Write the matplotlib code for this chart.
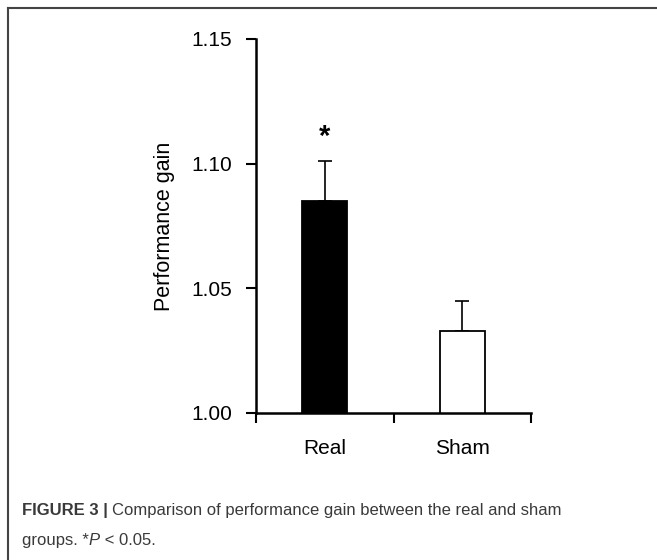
"""
Bar chart of performance gain for the real and sham stimulation groups,
with the figure caption underneath (journal figure style).
"""

import matplotlib
matplotlib.use('Agg')
import matplotlib.pyplot as plt
from matplotlib.lines import Line2D

# Data.
groups = ['Real', 'Sham']
gain = [1.085, 1.033]
gain_sem = [0.016, 0.012]
bar_colours = ['black', 'white']
sig_marks = ['*', '']

yticks = [1.00, 1.05, 1.10, 1.15]
ytick_labels = ['1.00', '1.05', '1.10', '1.15']

caption_bold = 'FIGURE 3 | '
caption_line1 = 'Comparison of performance gain between the real and sham'
caption_line2 = ['groups. *', 'P', ' < 0.05.']

plt.rcParams['font.family'] = ['Liberation Sans', 'DejaVu Sans']

fig = plt.figure(figsize=(6.57, 5.6), dpi=100)
W, H = 657.0, 560.0

# Axes placed in pixel terms from the reference.
ax = fig.add_axes([256 / W, 1 - 413 / H, (531 - 256) / W, (413 - 39) / H])

x = list(range(len(groups)))
ax.bar(x, gain, width=0.33, color=bar_colours, edgecolor='black',
       linewidth=1.3, zorder=2)
ax.errorbar(x, gain, yerr=[[0] * len(gain), gain_sem], fmt='none',
            ecolor='black', elinewidth=1.2, capsize=4.7, capthick=1.2,
            zorder=1)

for xi, g, e, m in zip(x, gain, gain_sem, sig_marks):
    if m:
        ax.text(xi, g + e + 0.004, m, ha='center', va='bottom',
                fontsize=21, fontweight='bold')

ax.set_ylim(1.00, 1.15)
ax.set_xlim(-0.5, len(groups) - 0.5)
ax.set_yticks(yticks)
ax.set_yticklabels(ytick_labels)

# Category labels without marks; tick marks sit between categories.
ax.set_xticks(x)
ax.set_xticklabels(groups)
ax.tick_params(axis='x', which='major', length=0, pad=19, labelsize=15)
ax.set_xticks([i - 0.5 for i in range(len(groups) + 1)], minor=True)
ax.tick_params(axis='x', which='minor', length=7, width=1.5, direction='out')
ax.tick_params(axis='y', length=7, width=1.5, direction='out', pad=10,
               labelsize=15)

ax.set_ylabel('Performance gain', fontsize=15.5, labelpad=12)

for side in ['top', 'right']:
    ax.spines[side].set_visible(False)
for side in ['left', 'bottom']:
    ax.spines[side].set_linewidth(1.8)

# Frame of the figure panel (left and top edges only).
fig.add_artist(Line2D([8 / W, 8 / W], [0, 1 - 8 / H], transform=fig.transFigure,
                      color='#444444', linewidth=1.5))
fig.add_artist(Line2D([8 / W, 1], [1 - 8 / H, 1 - 8 / H],
                      transform=fig.transFigure, color='#444444',
                      linewidth=1.5))

# Caption, built from runs of text so that bold and italic parts line up.
renderer = fig.canvas.get_renderer()
cap_colour = '#3a3a3a'
cap_size = 12


def put_runs(x0, y0, runs):
    xp = x0
    for txt, kw in runs:
        t = fig.text(xp, y0, txt, fontsize=cap_size, color=cap_colour,
                     va='baseline', ha='left', **kw)
        bb = t.get_window_extent(renderer=renderer)
        xp += bb.width / W


put_runs(22 / W, 1 - 515 / H,
         [(caption_bold, {'fontweight': 'bold'}), (caption_line1, {})])
put_runs(22 / W, 1 - 545 / H,
         [(caption_line2[0], {}), (caption_line2[1], {'fontstyle': 'italic'}),
          (caption_line2[2], {})])

fig.savefig('out.png', dpi=100)
